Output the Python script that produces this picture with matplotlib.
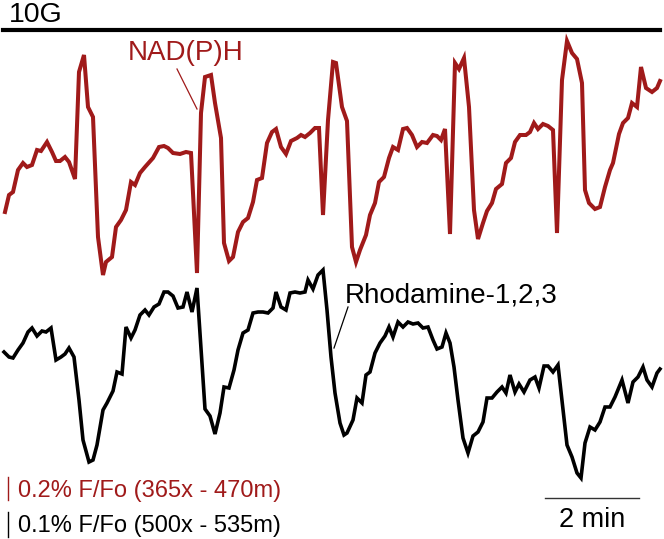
import matplotlib
matplotlib.use("Agg")
import matplotlib.pyplot as plt

plt.rcParams["font.family"] = ["Liberation Sans", "DejaVu Sans"]

# ---- TRACE DATA (time in image units, signal downward-positive) ----
nadph_t = [5, 9, 13, 18, 23, 27, 32, 37, 41, 47,
           52, 56, 60, 65, 69, 75, 79, 84, 88, 93,
           98, 103, 106, 112, 116, 121, 126, 131, 135, 140,
           145, 153, 159, 164, 168, 173, 180, 186, 191, 197,
           201, 205, 211, 215, 221, 224, 229, 233, 238, 243,
           248, 253, 257, 262, 267, 272, 276, 281, 286, 291,
           297, 301, 305, 310, 315, 319, 323, 328, 333, 336,
           342, 347, 352, 356, 360, 366, 370, 375, 379, 384,
           389, 393, 398, 403, 407, 412, 417, 422, 427, 433,
           437, 441, 445, 450, 455, 459, 464, 469, 474, 478,
           483, 487, 492, 496, 502, 506, 511, 515, 520, 526,
           530, 534, 538, 543, 548, 553, 557, 562, 567, 572,
           577, 582, 585, 589, 595, 600, 605, 610, 613, 619,
           623, 628, 632, 637, 641, 646, 652, 657, 660]
nadph = [212, 195, 192, 170, 163, 167, 165, 150, 151, 142,
         152, 161, 161, 157, 162, 179, 72, 55, 107, 117,
         237, 275, 262, 257, 227, 220, 210, 182, 185, 173,
         167, 158, 147, 146, 148, 153, 154, 152, 153, 273,
         113, 77, 75, 103, 138, 243, 261, 257, 232, 222,
         218, 202, 180, 178, 143, 132, 129, 147, 154, 141,
         138, 135, 137, 133, 128, 128, 215, 120, 62, 63,
         107, 121, 247, 262, 250, 235, 215, 203, 182, 177,
         158, 147, 150, 129, 128, 135, 147, 142, 143, 135,
         136, 140, 129, 234, 63, 69, 58, 107, 210, 239,
         223, 211, 203, 189, 184, 163, 158, 142, 135, 135,
         132, 123, 129, 124, 126, 130, 233, 80, 41, 53,
         59, 83, 190, 203, 209, 207, 187, 170, 163, 134,
         123, 118, 103, 107, 67, 88, 92, 88, 81]

rhod_t = [4, 9, 13, 18, 23, 28, 32, 37, 42, 46,
          51, 56, 61, 65, 69, 74, 79, 83, 89, 93,
          97, 103, 107, 113, 117, 122, 126, 131, 135, 140,
          145, 149, 154, 159, 164, 168, 173, 178, 183, 187,
          192, 197, 205, 210, 215, 220, 224, 229, 234, 238,
          243, 248, 253, 258, 263, 268, 273, 276, 281, 286,
          290, 295, 300, 305, 308, 313, 318, 323, 327, 331,
          335, 340, 344, 347, 353, 357, 362, 366, 370, 375,
          380, 385, 389, 393, 398, 403, 408, 413, 418, 423,
          428, 433, 437, 442, 446, 450, 454, 458, 463, 468,
          473, 478, 483, 487, 492, 497, 502, 506, 510, 515,
          519, 524, 530, 535, 539, 544, 548, 553, 558, 563,
          567, 572, 577, 581, 585, 590, 595, 600, 605, 610,
          615, 622, 628, 633, 638, 643, 647, 652, 657, 660]
rhod = [352, 357, 358, 350, 343, 332, 328, 336, 331, 332,
        328, 360, 357, 354, 348, 357, 400, 440, 462, 460,
        445, 410, 403, 391, 372, 374, 327, 338, 330, 315,
        310, 315, 307, 304, 292, 292, 296, 308, 307, 292,
        312, 288, 409, 416, 434, 413, 387, 388, 370, 350,
        333, 330, 313, 312, 312, 313, 308, 292, 307, 310,
        293, 292, 293, 292, 280, 289, 275, 270, 310, 357,
        393, 423, 435, 433, 420, 398, 403, 375, 372, 353,
        343, 336, 327, 337, 322, 327, 322, 324, 323, 328,
        327, 340, 349, 347, 333, 343, 367, 400, 438, 453,
        436, 432, 422, 398, 398, 392, 387, 393, 375, 392,
        384, 392, 380, 377, 388, 366, 366, 372, 365, 410,
        445, 457, 473, 478, 443, 427, 430, 422, 407, 407,
        397, 380, 403, 382, 377, 367, 380, 387, 373, 369]

RED = "#a01a1a"

fig = plt.figure(figsize=(6.64, 5.39), dpi=100)
ax = fig.add_axes([0, 0, 1, 1])
ax.set_xlim(0, 664)
ax.set_ylim(539, 0)
ax.axis("off")

# traces
ax.plot(nadph_t, nadph, color=RED, lw=2.9, solid_joinstyle="miter")
ax.plot(rhod_t, rhod, color="black", lw=2.6, solid_joinstyle="miter")

# glucose bar
ax.plot([3, 660], [30, 30], color="black", lw=3)
ax.text(9, 22, "10G", fontsize=20.5, ha="left", va="baseline")

# labels with leader lines
ax.text(128, 60, "NAD(P)H", fontsize=20, color=RED, va="baseline")
ax.plot([177, 197], [69, 109], color=RED, lw=0.9)
ax.text(345, 302, "Rhodamine-1,2,3", fontsize=20, va="baseline")
ax.plot([348, 334], [307, 348], color="black", lw=0.9)

# amplitude scale bars
ax.plot([8, 8], [477, 500], color=RED, lw=1)
ax.text(18, 497, "0.2% F/Fo (365x - 470m)", fontsize=17, color=RED, va="baseline")
ax.plot([8, 8], [512, 537], color="black", lw=1)
ax.text(18, 532, "0.1% F/Fo (500x - 535m)", fontsize=17, va="baseline")

# time scale bar
ax.plot([545, 639], [498, 498], color="#333333", lw=1)
ax.text(592, 527, "2 min", fontsize=19.5, ha="center", va="baseline")

fig.savefig("out.png", dpi=100)
